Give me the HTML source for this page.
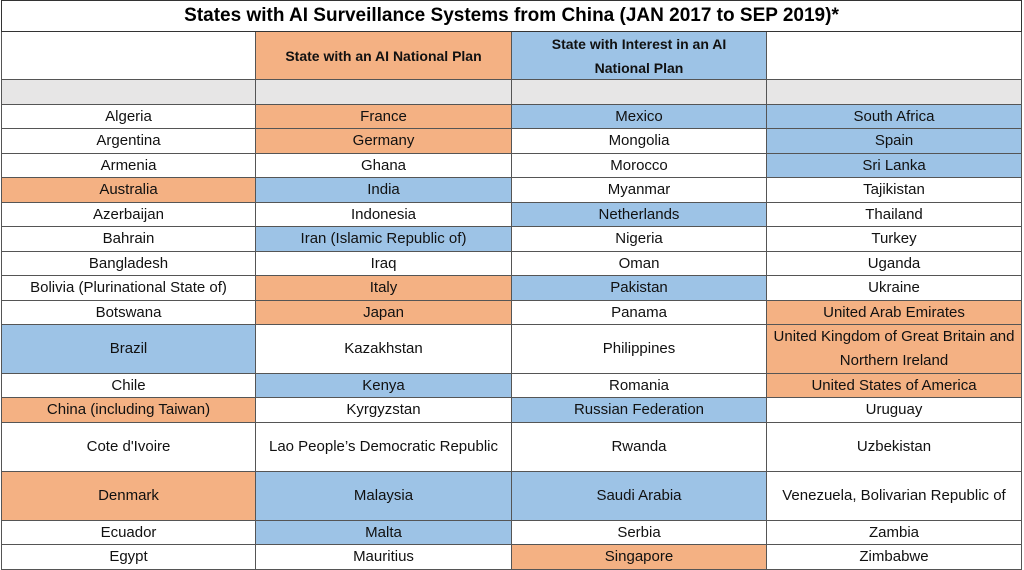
<!DOCTYPE html>
<html><head><meta charset="utf-8"><style>
body{margin:0;width:1024px;height:570px;background:#fff;overflow:hidden;font-family:"Liberation Sans",sans-serif}
#wrap{position:absolute;left:0;top:0;width:1024px;height:570px}
.c{position:absolute;box-sizing:border-box;border-right:1px solid #555;border-bottom:1px solid #555;display:flex;align-items:center;justify-content:center;text-align:center;font-size:15px;color:#111;line-height:24px}
.t{position:absolute;left:1px;top:0;width:1021px;height:32px;border:1px solid #333;box-sizing:border-box;font-weight:bold;font-size:19px;display:flex;align-items:center;justify-content:center}
</style></head><body>
<div id="wrap">
<div class="t">States with AI Surveillance Systems from China (JAN 2017 to SEP 2019)*</div>
</div>
<script>
const rowLabels=[
["","State with an AI National Plan","State with Interest in an AI National Plan",""],
["","","",""],
["Algeria","France","Mexico","South Africa"],
["Argentina","Germany","Mongolia","Spain"],
["Armenia","Ghana","Morocco","Sri Lanka"],
["Australia","India","Myanmar","Tajikistan"],
["Azerbaijan","Indonesia","Netherlands","Thailand"],
["Bahrain","Iran (Islamic Republic of)","Nigeria","Turkey"],
["Bangladesh","Iraq","Oman","Uganda"],
["Bolivia (Plurinational State of)","Italy","Pakistan","Ukraine"],
["Botswana","Japan","Panama","United Arab Emirates"],
["Brazil","Kazakhstan","Philippines","United Kingdom of Great Britain and Northern Ireland"],
["Chile","Kenya","Romania","United States of America"],
["China (including Taiwan)","Kyrgyzstan","Russian Federation","Uruguay"],
["Cote d'Ivoire","Lao People’s Democratic Republic","Rwanda","Uzbekistan"],
["Denmark","Malaysia","Saudi Arabia","Venezuela, Bolivarian Republic of"],
["Ecuador","Malta","Serbia","Zambia"],
["Egypt","Mauritius","Singapore","Zimbabwe"]];
const rowColors=["WOBW","GGGG","WOBB","WOWB","WWWB","OBWW","WWBW","WBWW","WWWW","WOBW","WOWO","BWWO","WBWO","OWBW","WWWW","OBBW","WBWW","WWOW"];
const rowUnits=[2,1,1,1,1,1,1,1,1,1,1,2,1,1,2,2,1,1];
const colX=[1,256,512,767,1022];
const top0=32,headerH=48,greyH=25,unit=24.45;
const pal={W:"#ffffff",O:"#f4b183",B:"#9dc3e6",G:"#e7e6e6"};
const wrap=document.getElementById('wrap');
let y=top0;
rowLabels.forEach((row,r)=>{
  const h=r===0?headerH:(r===1?greyH:unit*rowUnits[r]);
  row.forEach((txt,c)=>{
    const d=document.createElement('div');
    d.className='c';
    
    
    d.style.left=colX[c]+'px';d.style.top=Math.round(y)+'px';
    d.style.width=(colX[c+1]-colX[c])+'px';d.style.height=(Math.round(y+h)-Math.round(y))+'px';
    d.style.background=pal[rowColors[r][c]];
    if(c===0)d.style.borderLeft='1px solid #555';
    if(r===0){d.style.fontWeight='bold';d.style.fontSize='14px';d.style.padding='0 20px';}
    d.textContent=txt;
    wrap.appendChild(d);
  });
  y+=h;
});
</script>
</body></html>
